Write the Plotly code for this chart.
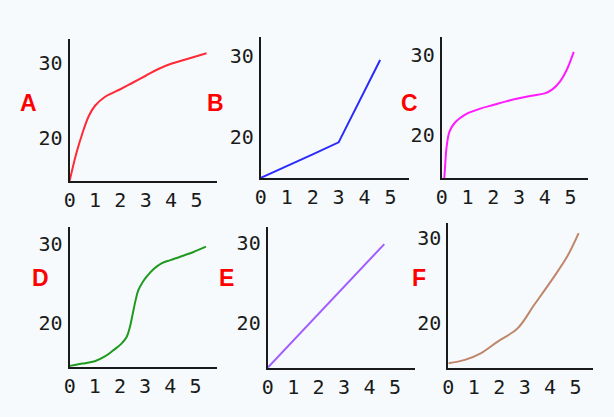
import plotly.graph_objects as go

W, H = 614, 417

# Data
panel_names = ["A", "B", "C", "D", "E", "F"]

a_x = [0, 0.25, 0.5, 0.75, 1.0, 1.4, 2.0, 2.5, 3.0, 3.5, 4.0, 4.5, 5.0, 5.4]
a_y = [14.3, 17.8, 20.6, 22.9, 24.3, 25.5, 26.5, 27.4, 28.3, 29.2, 29.9, 30.4, 30.9, 31.3]

b_x = [0, 1.0, 2.0, 3.0, 4.6]
b_y = [14.9, 16.3, 17.8, 19.3, 29.5]

c_x = [0.1, 0.13, 0.19, 0.3, 0.5, 0.75, 1.0, 1.5, 2.0, 2.5, 3.0, 3.5, 4.0, 4.3, 4.6, 4.85, 5.13]
c_y = [14.6, 16.0, 18.5, 20.4, 21.5, 22.2, 22.7, 23.3, 23.75, 24.2, 24.6, 24.9, 25.2, 25.7, 26.7, 28.1, 30.4]

d_x = [0, 0.5, 1.0, 1.4, 1.74, 2.05, 2.27, 2.4, 2.5, 2.62, 2.73, 2.9, 3.06, 3.35, 3.65, 4.0, 4.37, 4.9, 5.42]
d_y = [14.6, 14.9, 15.2, 15.8, 16.6, 17.4, 18.3, 19.6, 21.1, 22.9, 24.2, 25.2, 25.9, 26.9, 27.6, 28.0, 28.4, 29.0, 29.7]

e_x = [0, 4.58]
e_y = [14.45, 29.9]

f_x = [0, 0.65, 1.29, 1.94, 2.72, 3.37, 4.02, 4.67, 5.12]
f_y = [15.3, 15.7, 16.5, 17.85, 19.4, 22.15, 24.9, 27.85, 30.6]

x_ticks = [0, 1, 2, 3, 4, 5]
y_ticks = [20, 30]

series_x = [a_x, b_x, c_x, d_x, e_x, f_x]
series_y = [a_y, b_y, c_y, d_y, e_y, f_y]
colors = ["#ff2a36", "#2a2aff", "#ff1aff", "#1f9a1f", "#a35cff", "#c0866a"]
shapes = ["spline", "linear", "spline", "spline", "linear", "spline"]

# Panel geometry (pixels): left axis x, right end x, bottom axis y, top y
geom = [
    (64.3, 213, 181, 39, 25.6, 138, 7.5),
    (257.3, 406.7, 178.3, 36.7, 26.2, 136.7, 8.07),
    (440, 588, 178.3, 36.7, 26.0, 135, 8.0),
    (64.3, 213, 366.7, 226.7, 25.4, 323.3, 7.9),
    (264.3, 413, 367.7, 226.7, 25.7, 323.3, 8.0),
    (446.7, 592.7, 367.7, 223.3, 25.7, 323.3, 8.5),
]
label_pos = [(23, 103), (212, 103), (407, 103), (35, 278), (223, 278), (417, 278)]

fig = go.Figure()
layout = {}
for i in range(6):
    xl, xr, yb, yt, xs, y20, ys = geom[i]
    sfx = "" if i == 0 else str(i + 1)
    xmax = (xr - xl) / xs
    ybot = 20 - (yb - y20) / ys
    ytop = 20 + (y20 - yt) / ys
    fig.add_trace(go.Scatter(
        x=series_x[i], y=series_y[i], mode="lines",
        line=dict(color=colors[i], width=2, shape=shapes[i], smoothing=1.0),
        xaxis="x" + sfx, yaxis="y" + sfx, showlegend=False, hoverinfo="skip",
    ))
    axis_common = dict(
        showline=True, linecolor="#1a1a1a", linewidth=2, showgrid=False,
        zeroline=False, ticks="", fixedrange=True,
        tickfont=dict(family="DejaVu Sans Mono", size=20, color="#1a1a1a"),
    )
    layout["xaxis" + sfx] = dict(
        domain=[xl / W, xr / W], range=[0, xmax], anchor="y" + sfx,
        tickvals=x_ticks, ticklabelstandoff=0, **axis_common,
    )
    layout["yaxis" + sfx] = dict(
        domain=[1 - yb / H, 1 - yt / H], range=[ybot, ytop], anchor="x" + sfx,
        tickvals=y_ticks, ticklabelstandoff=1, **axis_common,
    )

annotations = []
for i, name in enumerate(panel_names):
    lx, ly = label_pos[i]
    annotations.append(dict(
        x=lx / W, y=1 - ly / H, xref="paper", yref="paper", text="<b>%s</b>" % name,
        showarrow=False, xanchor="center", yanchor="middle",
        font=dict(family="Liberation Sans", size=23, color="#ff0000"),
    ))

fig.update_layout(
    width=W, height=H, margin=dict(l=0, r=0, t=0, b=0),
    paper_bgcolor="#f6fafd", plot_bgcolor="#f6fafd",
    annotations=annotations, **layout,
)
fig.write_html(
    "out.html",
    config={"displayModeBar": False, "staticPlot": True},
    post_script="document.body.style.margin='0';document.body.style.padding='0';"
                "document.body.style.overflow='hidden';document.body.style.background='#f6fafd';",
)
